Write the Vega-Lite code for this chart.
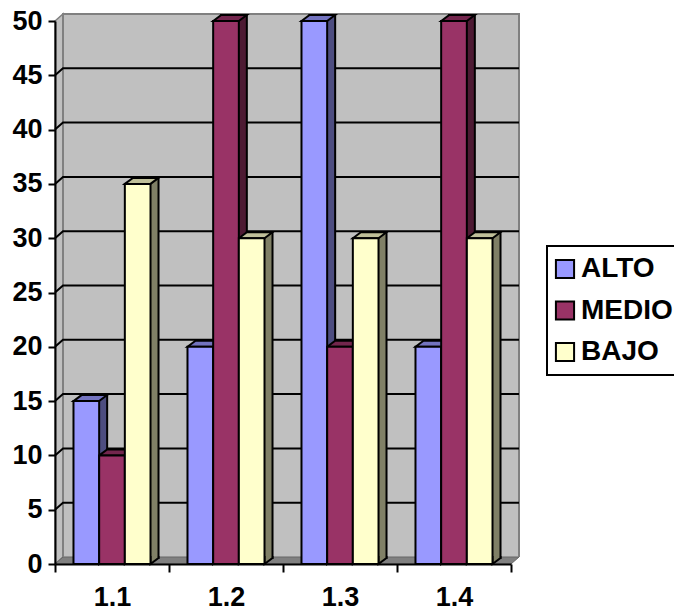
{"$schema":"https://vega.github.io/schema/vega-lite/v6.json","width":456,"height":543,"autosize":{"type":"none"},"padding":{"left":55,"top":21,"right":163,"bottom":48},"background":"white","config":{"view":{"stroke":null},"font":"Liberation Sans","legend":{"strokeWidth":2}},"data":{"values":[{"category":"1.1","series":"ALTO","value":15},{"category":"1.1","series":"MEDIO","value":10},{"category":"1.1","series":"BAJO","value":35},{"category":"1.2","series":"ALTO","value":20},{"category":"1.2","series":"MEDIO","value":50},{"category":"1.2","series":"BAJO","value":30},{"category":"1.3","series":"ALTO","value":50},{"category":"1.3","series":"MEDIO","value":20},{"category":"1.3","series":"BAJO","value":30},{"category":"1.4","series":"ALTO","value":20},{"category":"1.4","series":"MEDIO","value":50},{"category":"1.4","series":"BAJO","value":30}]},"encoding":{"x":{"field":"category","type":"nominal","title":null,"scale":{"paddingInner":0,"paddingOuter":0},"axis":{"zindex":1,"labelAngle":0,"tickBand":"extent","domainColor":"black","domainWidth":2,"tickColor":"black","tickWidth":2,"tickSize":8,"labelFont":"Liberation Sans","labelFontWeight":"bold","labelFontSize":27,"labelColor":"black","labelPadding":12}},"y":{"field":"value","type":"quantitative","title":null,"scale":{"domain":[0,50],"nice":false},"axis":{"zindex":1,"values":[0,5,10,15,20,25,30,35,40,45,50],"grid":false,"domainColor":"black","domainWidth":2,"tickColor":"black","tickWidth":2,"tickSize":7,"labelFont":"Liberation Sans","labelFontWeight":"bold","labelFontSize":27,"labelColor":"black","labelPadding":6}}},"resolve":{"scale":{"fill":"independent","xOffset":"independent"}},"layer":[{"data":{"values":[{"category":"1.1","value":50},{"category":"1.2","value":50},{"category":"1.3","value":50},{"category":"1.4","value":50}]},"mark":{"type":"bar","fill":"#C0C0C0","stroke":null,"xOffset":8,"x2Offset":8,"yOffset":-7,"y2Offset":-7}},{"data":{"values":[{"category":"1.1","value":0}]},"mark":{"type":"point","filled":true,"size":4,"opacity":1,"fill":"#C0C0C0","stroke":"#808080","strokeWidth":1.5,"shape":"M-57,0 L-49,-7 L-49,-550 L-57,-543 Z"}},{"data":{"values":[{"category":"1.1","value":0}]},"mark":{"type":"point","filled":true,"size":4,"opacity":1,"fill":"#808080","stroke":"#666666","strokeWidth":1,"shape":"M-57,0 L-49,-7 L407,-7 L399,0 Z"}},{"data":{"values":[{"category":"1.1","value":0}]},"mark":{"type":"point","filled":false,"size":4,"opacity":1,"stroke":"#808080","strokeWidth":2,"shape":"M-49,-7 L-49,-550 L407,-550 L407,-7"}},{"data":{"values":[{"category":"1.1","value":5},{"category":"1.1","value":10},{"category":"1.1","value":15},{"category":"1.1","value":20},{"category":"1.1","value":25},{"category":"1.1","value":30},{"category":"1.1","value":35},{"category":"1.1","value":40},{"category":"1.1","value":45}]},"mark":{"type":"point","filled":false,"size":4,"opacity":1,"stroke":"black","strokeWidth":2,"shape":"M-57,0 L-49,-7 L407,-7"}},{"mark":{"type":"bar","stroke":"black","strokeWidth":2,"yOffset":-6,"y2Offset":-6},"encoding":{"xOffset":{"field":"series","type":"nominal","sort":["ALTO","MEDIO","BAJO"],"scale":{"type":"band","paddingOuter":0.72,"paddingInner":0,"range":[8,122]}},"fill":{"field":"series","type":"nominal","legend":null,"scale":{"domain":["ALTO","MEDIO","BAJO"],"range":["#4D4D80","#4D1A33","#808066"]}}}},{"transform":[{"calculate":"0","as":"value"}],"mark":{"type":"point","filled":true,"size":4,"opacity":1,"stroke":"black","strokeWidth":2,"shape":"M12.8,-8 L12.8,0 L20.8,-6 L20.8,-8"},"encoding":{"xOffset":{"field":"series","type":"nominal","sort":["ALTO","MEDIO","BAJO"],"scale":{"type":"band","paddingOuter":0.72,"paddingInner":0}},"fill":{"field":"series","type":"nominal","legend":null,"scale":{"domain":["ALTO","MEDIO","BAJO"],"range":["#4D4D80","#4D1A33","#808066"]}}}},{"mark":{"type":"point","filled":true,"size":4,"opacity":1,"stroke":"black","strokeWidth":2,"shape":"M-12.8,0 L-4.8,-6 L20.8,-6 L12.8,0 Z"},"encoding":{"xOffset":{"field":"series","type":"nominal","sort":["ALTO","MEDIO","BAJO"],"scale":{"type":"band","paddingOuter":0.72,"paddingInner":0}},"fill":{"field":"series","type":"nominal","legend":null,"scale":{"domain":["ALTO","MEDIO","BAJO"],"range":["#7373BF","#73264D","#BFBF99"]}}}},{"mark":{"type":"bar","stroke":"black","strokeWidth":2},"encoding":{"xOffset":{"field":"series","type":"nominal","sort":["ALTO","MEDIO","BAJO"],"scale":{"type":"band","paddingOuter":0.72,"paddingInner":0}},"fill":{"field":"series","type":"nominal","scale":{"domain":["ALTO","MEDIO","BAJO"],"range":["#9999FF","#993366","#FFFFCC"]},"legend":{"title":null,"orient":"none","legendX":492,"legendY":225,"padding":9,"strokeColor":"black","fillColor":"white","symbolType":"square","symbolSize":330,"symbolStrokeColor":"black","symbolStrokeWidth":2,"symbolOffset":-5,"labelFont":"Liberation Sans","labelFontWeight":"bold","labelFontSize":28,"labelColor":"black","labelLimit":200,"rowPadding":13.5,"labelOffset":2}}}}]}
